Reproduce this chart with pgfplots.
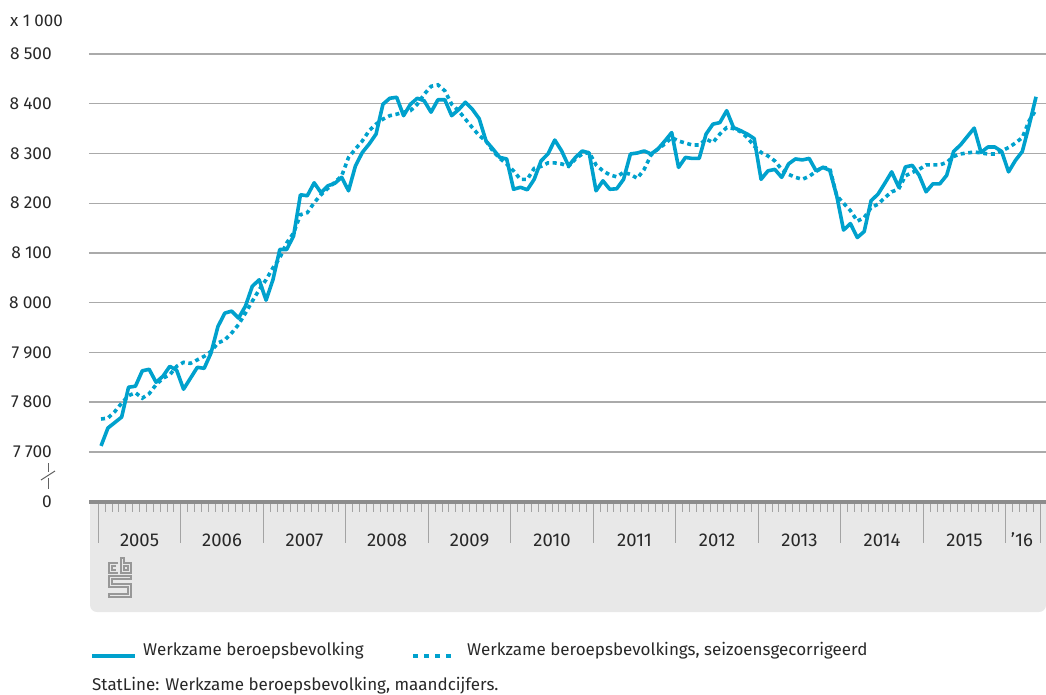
\documentclass[border=0pt]{standalone}
\usepackage{pgfplots}
\pgfplotsset{compat=1.18}
\usepackage{pgfplotstable}
\usepackage{fontspec}
\setmainfont{Fira Sans}
\definecolor{cbsblue}{RGB}{0,161,205}
\definecolor{gridgray}{RGB}{170,170,170}
\definecolor{axisgray}{RGB}{140,140,140}
\definecolor{boxgray}{RGB}{232,232,232}
\definecolor{txt}{RGB}{40,40,40}
\pgfplotstableread{
m a b
0 7712 7766
1 7748 7768
2 7759 7781
3 7770 7798
4 7830 7813
5 7832 7819
6 7863 7808
7 7866 7817
8 7840 7835
9 7852 7848
10 7872 7855
11 7864 7872
12 7826 7880
13 7848 7878
14 7870 7885
15 7868 7892
16 7899 7902
17 7952 7919
18 7979 7925
19 7983 7939
20 7969 7956
21 7993 7979
22 8033 8003
23 8046 8026
24 8005 8046
25 8046 8070
26 8107 8090
27 8107 8120
28 8134 8140
29 8217 8177
30 8215 8181
31 8241 8201
32 8221 8217
33 8235 8230
34 8240 8242
35 8252 8255
36 8225 8292
37 8275 8309
38 8302 8325
39 8319 8346
40 8339 8359
41 8399 8369
42 8411 8376
43 8413 8379
44 8376 8383
45 8399 8386
46 8411 8399
47 8406 8419
48 8383 8435
49 8408 8438
50 8408 8426
51 8376 8399
52 8388 8386
53 8403 8369
54 8389 8352
55 8370 8336
56 8325 8325
57 8309 8305
58 8292 8290
59 8289 8279
60 8228 8265
61 8232 8248
62 8227 8248
63 8248 8270
64 8285 8274
65 8299 8281
66 8327 8281
67 8305 8279
68 8275 8274
69 8292 8289
70 8305 8299
71 8301 8302
72 8225 8277
73 8245 8265
74 8228 8257
75 8229 8253
76 8248 8262
77 8299 8258
78 8301 8250
79 8305 8268
80 8299 8297
81 8309 8309
82 8325 8319
83 8342 8332
84 8272 8325
85 8292 8321
86 8290 8317
87 8290 8317
88 8339 8329
89 8359 8322
90 8362 8339
91 8386 8352
92 8352 8350
93 8346 8344
94 8339 8332
95 8330 8315
96 8248 8302
97 8265 8295
98 8268 8285
99 8252 8268
100 8279 8258
101 8289 8252
102 8287 8248
103 8290 8254
104 8265 8264
105 8272 8272
106 8266 8270
107 8215 8215
108 8146 8200
109 8159 8185
110 8131 8164
111 8143 8171
112 8205 8191
113 8218 8198
114 8240 8211
115 8263 8223
116 8233 8228
117 8273 8255
118 8276 8262
119 8256 8268
120 8223 8277
121 8239 8277
122 8239 8277
123 8256 8282
124 8304 8294
125 8317 8299
126 8334 8301
127 8351 8303
128 8302 8301
129 8313 8299
130 8313 8299
131 8304 8305
132 8263 8312
133 8286 8321
134 8304 8332
135 8357 8366
136 8414 8388
}\datatable
\begin{document}
\begin{tikzpicture}
\path[use as bounding box] (0pt,0pt) rectangle (1046pt,-695pt);
% grey box below axis
\begin{scope}[x=1pt,y=-1pt]
\fill[boxgray,rounded corners=7pt] (90,502) -- (1046,502) -- (1046,612) -- (90,612) -- cycle;
\fill[boxgray] (90,502) rectangle (1046,520);
\end{scope}
\begin{axis}[
  at={(89pt,-501.6pt)}, anchor=south west,
  scale only axis, width=957pt, height=447.6pt,
  xmin=-1.353, xmax=137.847,
  ymin=7600, ymax=8500,
  axis line style={draw=none},
  xtick=\empty,
  ytick={7600,7700,...,8500},
  yticklabels={0,7\hspace{0.24em}700,7\hspace{0.24em}800,7\hspace{0.24em}900,8\hspace{0.24em}000,8\hspace{0.24em}100,8\hspace{0.24em}200,8\hspace{0.24em}300,8\hspace{0.24em}400,8\hspace{0.24em}500},
  major tick length=0pt,
  ymajorgrids,
  grid style={gridgray, line width=1.4pt},
  yticklabel style={anchor=east, inner sep=0pt, font=\fontsize{17.3}{19}\selectfont, text=txt},
  yticklabel shift=37pt,
  clip=false,
]
\addplot[cbsblue, line width=3.6pt, dash pattern=on 4pt off 3.6pt] table[x expr=\thisrow{m}+0.4, y=b] {\datatable};
\addplot[cbsblue, line width=3.6pt, line join=round] table[x expr=\thisrow{m}+0.4, y=a] {\datatable};
\end{axis}
\begin{scope}[x=1pt,y=-1pt]
% thick axis line
\draw[axisgray, line width=4pt] (89,502) -- (1046,502);
% minor ticks
\foreach \i in {0,...,137} \draw[axisgray!80, line width=0.9pt] (98.3+\i*6.875,504) -- ++(0,8);
% year ticks
\foreach \i in {0,12,...,132,137} \draw[axisgray!80, line width=1.1pt] (98.3+\i*6.875,504) -- ++(0,39);
% year labels
\foreach \y [count=\k from 0] in {2005,2006,2007,2008,2009,2010,2011,2012,2013,2014,2015}
  \node[text=txt, font=\fontsize{18.5}{20}\selectfont] at (98.3+\k*82.5+41.25,540) {\y};
\node[text=txt, font=\fontsize{18.5}{20}\selectfont] at (1022,540) {'16};
% unit
\node[anchor=west, text=txt, inner sep=0pt, font=\fontsize{17}{19}\selectfont] at (10,21) {x 1\hspace{0.24em}000};
% axis break
\draw[axisgray!70!black, line width=1pt] (48,463) -- (48,472);
\draw[axisgray!70!black, line width=1pt] (41,480) -- (55,471);
\draw[axisgray!70!black, line width=1pt] (48,478) -- (48,489);
% cbs logo
\begin{scope}[axisgray!90, line width=1.1pt]
\draw (118,563) -- (109,563) -- (109,573) -- (118,573);
\draw (116,566) -- (112,566) -- (112,570) -- (116,570);
\draw (121,558) -- (121,573) -- (131,573) -- (131,563) -- (124,563) -- (124,558) -- cycle;
\draw (124,566) rectangle (128,570);
\draw (131,576) -- (109,576) -- (109,587) -- (128,587) -- (128,594) -- (109,594) -- (109,597) -- (131,597) -- (131,584) -- (112,584) -- (112,579) -- (131,579) -- cycle;
\end{scope}
% legend
\draw[cbsblue, line width=3.6pt] (92,656) -- (135,656);
\node[anchor=west, text=txt, inner sep=0pt, font=\fontsize{17}{19}\selectfont] at (143,651) {Werkzame beroepsbevolking};
\draw[cbsblue, line width=3.6pt, dash pattern=on 5pt off 6pt] (413,656) -- (453,656);
\node[anchor=west, text=txt, inner sep=0pt, font=\fontsize{17}{19}\selectfont] at (467,651) {Werkzame beroepsbevolkings, seizoensgecorrigeerd};
\node[anchor=west, text=txt, inner sep=0pt, font=\fontsize{17}{19}\selectfont] at (92,686) {StatLine: Werkzame beroepsbevolking, maandcijfers.};
\end{scope}
\end{tikzpicture}
\end{document}
